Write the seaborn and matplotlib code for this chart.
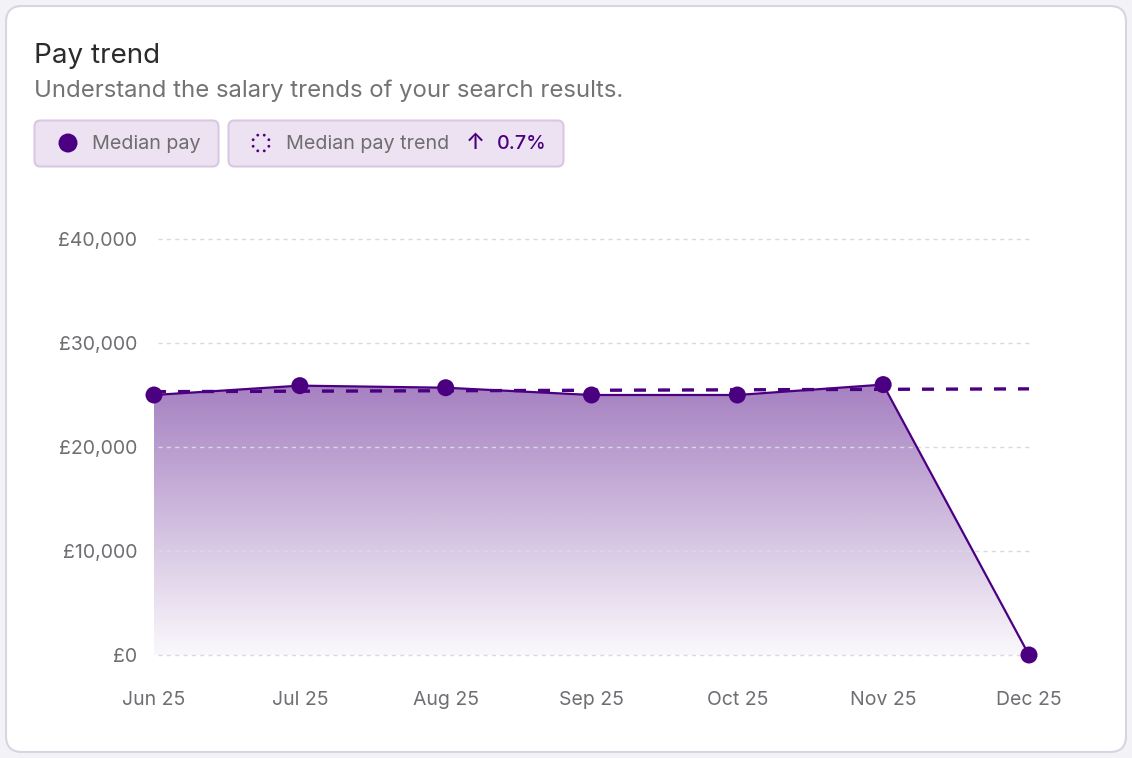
import numpy as np
import pandas as pd
import seaborn as sns
import matplotlib.pyplot as plt
from matplotlib.patches import FancyBboxPatch, Circle
from matplotlib.ticker import FuncFormatter

# data
months = ['Jun 25', 'Jul 25', 'Aug 25', 'Sep 25', 'Oct 25', 'Nov 25', 'Dec 25']
median_pay = [25000, 25900, 25700, 25000, 25000, 26000, 0]
trend_months = ['Jun 25', 'Dec 25']
trend_pay = [25320, 25590]
y_ticks = [0, 10000, 20000, 30000, 40000]

# colours
purple = (75/255, 0/255, 130/255)
grey_text = (0.43, 0.43, 0.45)
grid_col = (0.85, 0.85, 0.87)

sns.set_style('white')
plt.rcParams['font.family'] = ['Inter', 'DejaVu Sans']

df = pd.DataFrame({'month': months, 'pay': median_pay})
df['x'] = range(len(months))
trend = pd.DataFrame({'x': [months.index(m) for m in trend_months], 'pay': trend_pay})

W, H = 1132, 758
fig = plt.figure(figsize=(W / 100, H / 100), dpi=100)
fig.patch.set_facecolor('#f3f3f7')

# background layer in pixel coords (card, title, legend chips)
bg = fig.add_axes([0, 0, 1, 1])
bg.set_xlim(0, W)
bg.set_ylim(H, 0)
bg.axis('off')
bg.add_patch(FancyBboxPatch((6, 6), 1120, 746, boxstyle='round,pad=0,rounding_size=16',
                            facecolor='white', edgecolor='#d5d6e2', lw=1.5))
bg.text(34, 56, 'Pay trend', fontsize=20, color='#2b2b2b', va='center', ha='left')
bg.text(34, 91, 'Understand the salary trends of your search results.', fontsize=17.2,
        color='#737373', va='center', ha='left')

chip_face = '#ece2f1'
chip_edge = '#d9c7e4'
bg.add_patch(FancyBboxPatch((34.5, 120.5), 184, 46, boxstyle='round,pad=0,rounding_size=6',
                            facecolor=chip_face, edgecolor=chip_edge, lw=1.5))
bg.add_patch(FancyBboxPatch((228.5, 120.5), 335, 46, boxstyle='round,pad=0,rounding_size=6',
                            facecolor=chip_face, edgecolor=chip_edge, lw=1.5))
bg.add_patch(Circle((68, 143), 9.5, facecolor=purple, edgecolor='none'))
# dotted ring icon: eight small dots
for a in np.arange(8) * np.pi / 4 + np.pi / 8:
    bg.add_patch(Circle((261 + 8.5 * np.cos(a), 143 + 8.5 * np.sin(a)), 1.4,
                        facecolor=purple, edgecolor='none'))
bg.text(92, 144, 'Median pay', fontsize=14.2, color='#6e6e6e', va='center', ha='left')
bg.text(286, 144, 'Median pay trend', fontsize=14.2, color='#6e6e6e', va='center', ha='left')
bg.text(466, 143, '↑', fontsize=16, color=purple, va='center', ha='left', fontweight='medium')
bg.text(497, 144, '0.7%', fontsize=14.2, color=purple, va='center', ha='left', fontweight='medium')

# chart axes
ax = fig.add_axes([154 / W, (H - 655) / H, 875 / W, 416 / H])
ax.patch.set_alpha(0)
ax.set_xlim(0, len(months) - 1)
ax.set_ylim(0, 40000)

# gradient fill under the line
poly = ax.fill_between(df['x'], df['pay'], 0, color='none', lw=0)
top = max(median_pay)
grad = np.zeros((256, 2, 4))
grad[:, :, :3] = purple
grad[:, :, 3] = np.linspace(0.5, 0.03, 256)[:, None]
img = ax.imshow(grad, extent=[0, len(months) - 1, 0, top], aspect='auto', origin='upper', zorder=1)
img.set_clip_path(poly.get_paths()[0], transform=ax.transData)

for t in y_ticks:
    ax.axhline(t, color=grid_col, lw=1, ls=(0, (3, 3)), zorder=2, xmin=0.004)

sns.lineplot(data=trend, x='x', y='pay', ax=ax, color=purple, lw=2.4, zorder=4)
ax.lines[-1].set_dashes((3.6, 3.6))
sns.lineplot(data=df, x='x', y='pay', ax=ax, color=purple, lw=1.6, zorder=5)
sns.scatterplot(data=df, x='x', y='pay', ax=ax, color=purple, s=150, edgecolor='none',
                zorder=6, clip_on=False)
for ln in ax.lines:
    ln.set_clip_on(False)

ax.set_xticks(df['x'])
ax.set_xticklabels(months)
ax.set_yticks(y_ticks)
ax.yaxis.set_major_formatter(FuncFormatter(lambda v, p: '£{:,.0f}'.format(v)))
ax.tick_params(axis='both', length=0, labelsize=14, labelcolor=grey_text)
ax.tick_params(axis='y', pad=12)
ax.tick_params(axis='x', pad=26)
ax.set_xlabel('')
ax.set_ylabel('')
for s in ax.spines.values():
    s.set_visible(False)

fig.savefig('out.png', dpi=100, facecolor=fig.get_facecolor())
